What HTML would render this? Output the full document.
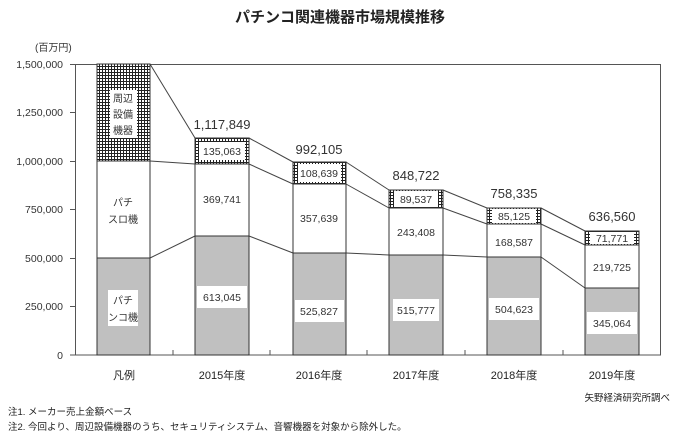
<!DOCTYPE html>
<html><head><meta charset="utf-8"><style>
html,body{margin:0;padding:0;background:#fff;}
svg{display:block;font-family:"Liberation Sans","Noto Sans CJK JP",sans-serif;}
</style></head><body>
<svg width="680" height="441" viewBox="0 0 680 441" xmlns="http://www.w3.org/2000/svg">
<defs>
<pattern id="h" width="3" height="3" patternUnits="userSpaceOnUse">
<rect width="3" height="3" fill="#fff"/>
<rect width="3" height="1" fill="#222"/><rect width="1" height="3" fill="#222"/>
</pattern>
</defs>
<text x="340" y="22" font-size="15" text-anchor="middle" fill="#222" font-weight="bold">パチンコ関連機器市場規模推移</text>
<text x="35" y="51" font-size="10" fill="#333">(百万円)</text>
<g font-size="10.5" fill="#333" text-anchor="end">
<text x="63" y="68">1,500,000</text>
<text x="63" y="116">1,250,000</text>
<text x="63" y="165">1,000,000</text>
<text x="63" y="213">750,000</text>
<text x="63" y="262">500,000</text>
<text x="63" y="310">250,000</text>
<text x="63" y="359">0</text>
</g>
<rect x="75.5" y="64.5" width="585" height="290.5" fill="none" stroke="#555" stroke-width="1"/>
<g stroke="#555">
<line x1="70" y1="64.5" x2="75" y2="64.5"/><line x1="70" y1="112.5" x2="75" y2="112.5"/>
<line x1="70" y1="161.5" x2="75" y2="161.5"/><line x1="70" y1="209.5" x2="75" y2="209.5"/>
<line x1="70" y1="258.5" x2="75" y2="258.5"/><line x1="70" y1="306.5" x2="75" y2="306.5"/>
<line x1="70" y1="355" x2="75" y2="355"/>
<line x1="173" y1="350" x2="173" y2="355"/><line x1="270" y1="350" x2="270" y2="355"/>
<line x1="367" y1="350" x2="367" y2="355"/><line x1="465" y1="350" x2="465" y2="355"/>
<line x1="563" y1="350" x2="563" y2="355"/>
</g>
<g stroke="#444" stroke-width="1" fill="none">
<line x1="150" y1="64" x2="195" y2="138"/><line x1="150" y1="161" x2="195" y2="164"/><line x1="150" y1="258" x2="195" y2="236"/>
<line x1="249" y1="138" x2="293" y2="162"/><line x1="249" y1="164" x2="293" y2="184"/><line x1="249" y1="236" x2="293" y2="253"/>
<line x1="346" y1="162" x2="389" y2="190"/><line x1="346" y1="184" x2="389" y2="208"/><line x1="346" y1="253" x2="389" y2="255"/>
<line x1="443" y1="190" x2="487" y2="208"/><line x1="443" y1="208" x2="487" y2="224"/><line x1="443" y1="255" x2="487" y2="257"/>
<line x1="541" y1="208" x2="585" y2="231"/><line x1="541" y1="224" x2="585" y2="245"/><line x1="541" y1="257" x2="585" y2="288"/>
</g>
<g stroke="#333" stroke-width="1">
<rect x="97" y="258" width="53" height="97" fill="#c0c0c0"/>
<rect x="97" y="161" width="53" height="97" fill="#fff"/>
<rect x="97" y="64" width="53" height="97" fill="url(#h)"/>
<rect x="195" y="236" width="54" height="119" fill="#c0c0c0"/>
<rect x="195" y="164" width="54" height="72" fill="#fff"/>
<rect x="195" y="138" width="54" height="26" fill="url(#h)"/>
<rect x="293" y="253" width="53" height="102" fill="#c0c0c0"/>
<rect x="293" y="184" width="53" height="69" fill="#fff"/>
<rect x="293" y="162" width="53" height="22" fill="url(#h)"/>
<rect x="389" y="255" width="54" height="100" fill="#c0c0c0"/>
<rect x="389" y="208" width="54" height="47" fill="#fff"/>
<rect x="389" y="190" width="54" height="18" fill="url(#h)"/>
<rect x="487" y="257" width="54" height="98" fill="#c0c0c0"/>
<rect x="487" y="224" width="54" height="33" fill="#fff"/>
<rect x="487" y="208" width="54" height="16" fill="url(#h)"/>
<rect x="585" y="288" width="54" height="67" fill="#c0c0c0"/>
<rect x="585" y="245" width="54" height="43" fill="#fff"/>
<rect x="585" y="231" width="54" height="14" fill="url(#h)"/>
</g>
<g fill="#fff">
<rect x="110" y="90" width="27" height="48"/>
<rect x="108" y="290" width="30" height="36"/>
<rect x="199" y="142" width="46" height="18"/>
<rect x="298" y="164" width="43" height="18"/>
<rect x="394" y="191" width="44" height="16"/>
<rect x="492" y="209" width="44" height="14"/>
<rect x="590" y="232" width="44" height="12"/>
<rect x="197" y="286" width="50" height="22"/>
<rect x="295" y="300" width="49" height="22"/>
<rect x="393" y="299" width="46" height="22"/>
<rect x="489" y="298" width="50" height="22"/>
<rect x="587" y="312" width="50" height="22"/>
</g>
<g font-size="10" fill="#333" text-anchor="middle">
<text x="123" y="102">周辺</text><text x="123" y="118">設備</text><text x="123" y="134">機器</text>
<text x="123" y="206">パチ</text><text x="123" y="223">スロ機</text>
<text x="123" y="304">パチ</text><text x="123" y="321">ンコ機</text>
</g>
<g font-size="10.5" fill="#333" text-anchor="middle">
<text x="222" y="155">135,063</text>
<text x="319" y="177">108,639</text>
<text x="416" y="203">89,537</text>
<text x="514" y="220">85,125</text>
<text x="612" y="242">71,771</text>
<text x="222" y="203">369,741</text>
<text x="319" y="222">357,639</text>
<text x="416" y="236">243,408</text>
<text x="514" y="246">168,587</text>
<text x="612" y="271">219,725</text>
<text x="222" y="301">613,045</text>
<text x="319" y="315">525,827</text>
<text x="416" y="314">515,777</text>
<text x="514" y="313">504,623</text>
<text x="612" y="327">345,064</text>
</g>
<g font-size="13" fill="#333" text-anchor="middle">
<text x="222" y="129">1,117,849</text>
<text x="319" y="154">992,105</text>
<text x="416" y="180">848,722</text>
<text x="514" y="198">758,335</text>
<text x="612" y="221">636,560</text>
</g>
<g font-size="11" fill="#222" text-anchor="middle">
<text x="124" y="379">凡例</text>
<text x="222" y="379">2015年度</text>
<text x="319" y="379">2016年度</text>
<text x="416" y="379">2017年度</text>
<text x="514" y="379">2018年度</text>
<text x="612" y="379">2019年度</text>
</g>
<text x="670" y="401" font-size="9.5" fill="#222" text-anchor="end">矢野経済研究所調べ</text>
<text x="8" y="415" font-size="9.5" fill="#222">注1.  メーカー売上金額ベース</text>
<text x="8" y="430" font-size="9.5" fill="#222">注2.  今回より、周辺設備機器のうち、セキュリティシステム、音響機器を対象から除外した。</text>
</svg>
</body></html>
